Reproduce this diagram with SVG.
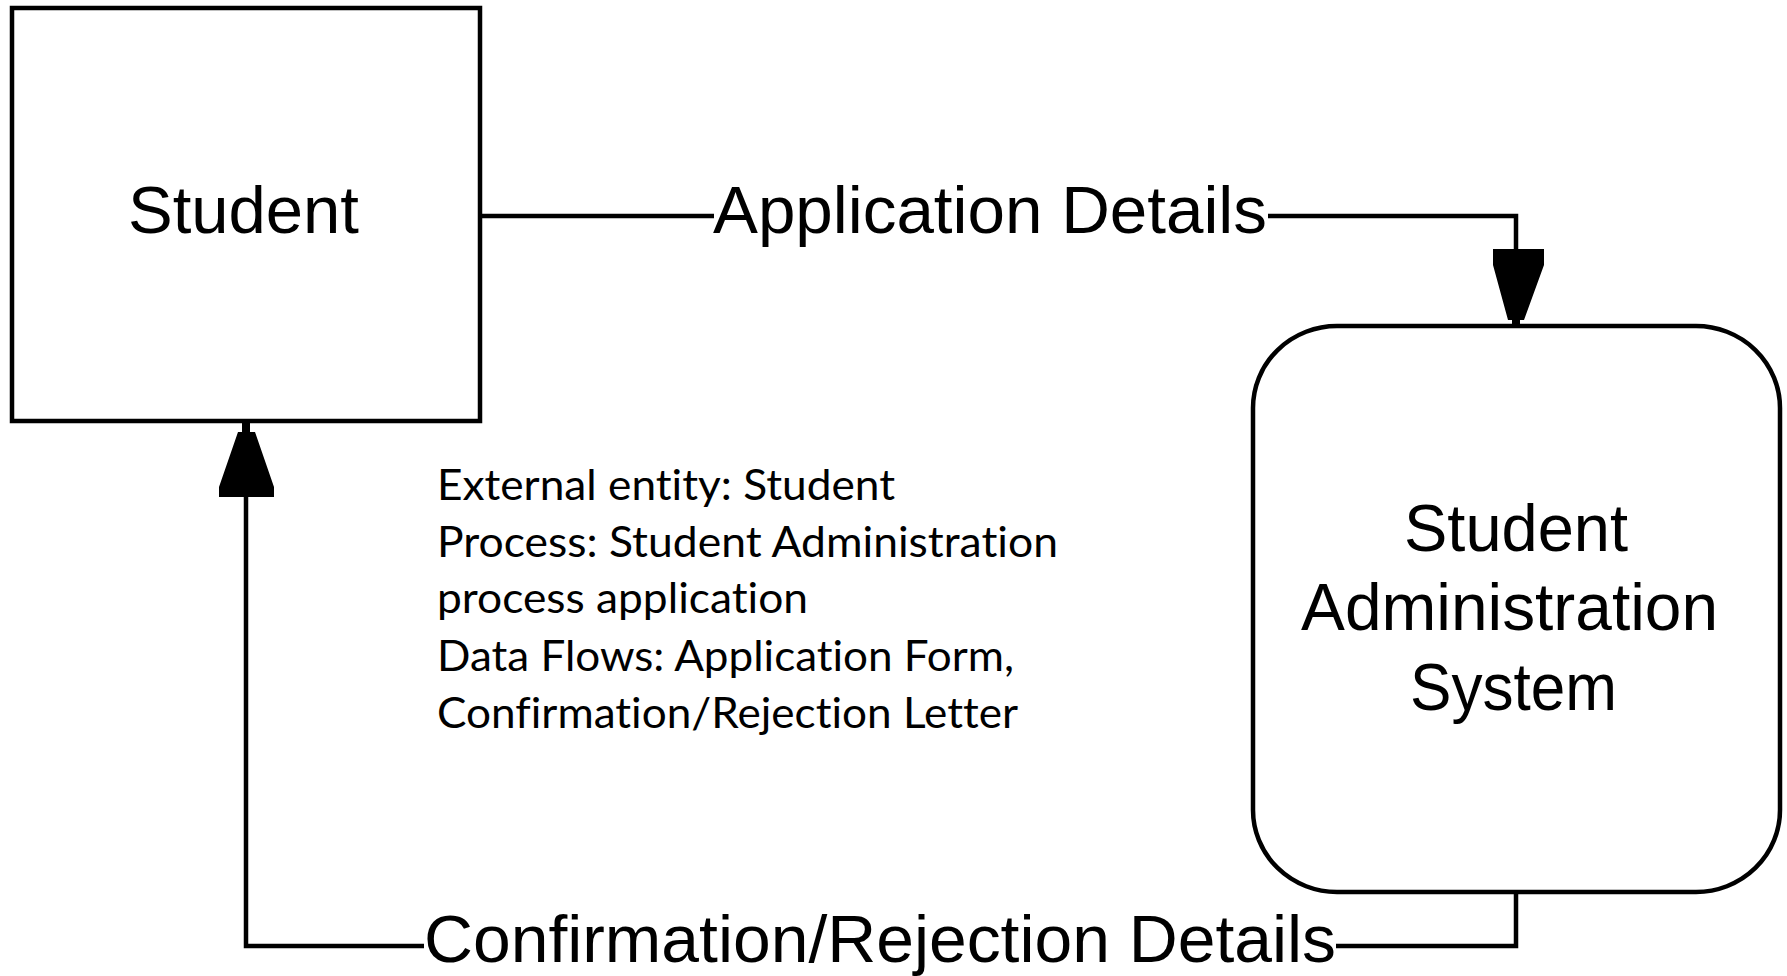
<svg xmlns="http://www.w3.org/2000/svg" width="1787" height="976" viewBox="0 0 1787 976">
<style>
.box{fill:#fff;stroke:#000;stroke-width:4.5}
.ln{fill:none;stroke:#000;stroke-width:4.5}
.ah{fill:#000;stroke:none}
.px{font-family:"Liberation Sans",Arial,sans-serif;font-size:66px;fill:#000}
.note{font-family:Lato,"Open Sans",sans-serif;font-size:43px;fill:#000;font-variant-ligatures:none;font-feature-settings:"liga" 0,"dlig" 0}
</style>
<rect width="1787" height="976" fill="#fff"/>
<g id="student">
<rect class="box" x="12" y="8" width="468" height="413"/>
<text class="px" x="128" y="233" textLength="231" lengthAdjust="spacingAndGlyphs">Student</text>
</g>
<g id="process">
<rect class="box" x="1253" y="326" width="527" height="566" rx="84" ry="82"/>
<text class="px" x="1404" y="551" textLength="224" lengthAdjust="spacingAndGlyphs">Student</text>
<text class="px" x="1301" y="630" textLength="417" lengthAdjust="spacingAndGlyphs">Administration</text>
<text class="px" x="1410" y="710" textLength="207" lengthAdjust="spacingAndGlyphs">System</text>
</g>
<g id="connectors">
<polyline class="ln" points="480,216 714,216"/>
<polyline class="ln" points="1268,216 1516,216 1516,250"/>
<polygon class="ah" points="1493,249 1544,249 1544,265 1524,320 1520,320 1520,326 1512,326 1512,320 1508,320 1493,265"/>
<text class="px" x="713" y="233" textLength="554" lengthAdjust="spacingAndGlyphs">Application Details</text>
<polyline class="ln" points="1516,892 1516,946 1336,946"/>
<polyline class="ln" points="424,946 246,946 246,496"/>
<polygon class="ah" points="219,497 274,497 274,487 255,432 250,432 250,421 242,421 242,432 238,432 219,487"/>
<text class="px" x="424" y="962" textLength="912" lengthAdjust="spacingAndGlyphs">Confirmation/Rejection Details</text>
</g>
<g id="note">
<text class="note" x="437" y="500" textLength="458" lengthAdjust="spacingAndGlyphs">External entity: Student</text>
<text class="note" x="437" y="557" textLength="621" lengthAdjust="spacingAndGlyphs">Process: Student Administration</text>
<text class="note" x="437" y="613" textLength="371" lengthAdjust="spacingAndGlyphs">process application</text>
<text class="note" x="437" y="671" textLength="577" lengthAdjust="spacingAndGlyphs">Data Flows: Application Form,</text>
<text class="note" x="437" y="728" textLength="581" lengthAdjust="spacingAndGlyphs">Confirmation/Rejection Letter</text>
</g>
</svg>
